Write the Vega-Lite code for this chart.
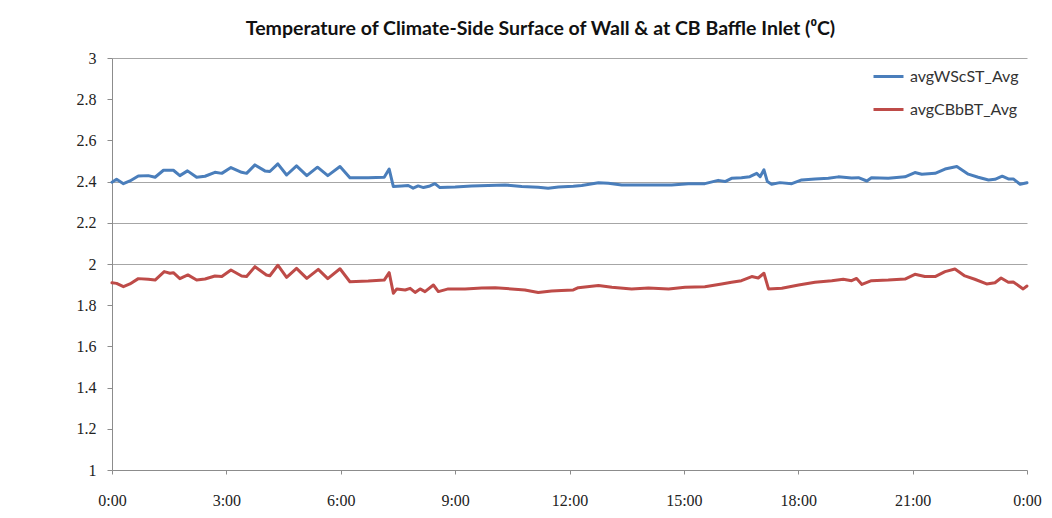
{
  "$schema": "https://vega.github.io/schema/vega-lite/v6.json",
  "width": 915,
  "height": 412,
  "autosize": {"type": "none"},
  "padding": {"left": 112, "top": 58, "right": 25, "bottom": 48},
  "background": "white",
  "title": {
    "text": "Temperature of Climate-Side Surface of Wall & at CB Baffle Inlet (⁰C)",
    "font": "Lato",
    "fontSize": 19.5,
    "fontWeight": "bold",
    "color": "#111111",
    "anchor": "middle",
    "dx": -29,
    "offset": 11
  },
  "data": {
    "values": [
      {"h": 0, "s": "avgWScST_Avg", "v": 2.397},
      {"h": 0.12, "s": "avgWScST_Avg", "v": 2.411},
      {"h": 0.3, "s": "avgWScST_Avg", "v": 2.39},
      {"h": 0.47, "s": "avgWScST_Avg", "v": 2.403},
      {"h": 0.69, "s": "avgWScST_Avg", "v": 2.427},
      {"h": 0.95, "s": "avgWScST_Avg", "v": 2.429},
      {"h": 1.13, "s": "avgWScST_Avg", "v": 2.421},
      {"h": 1.35, "s": "avgWScST_Avg", "v": 2.455},
      {"h": 1.61, "s": "avgWScST_Avg", "v": 2.455},
      {"h": 1.78, "s": "avgWScST_Avg", "v": 2.429},
      {"h": 1.98, "s": "avgWScST_Avg", "v": 2.452},
      {"h": 2.22, "s": "avgWScST_Avg", "v": 2.421},
      {"h": 2.44, "s": "avgWScST_Avg", "v": 2.426},
      {"h": 2.7, "s": "avgWScST_Avg", "v": 2.445},
      {"h": 2.88, "s": "avgWScST_Avg", "v": 2.44},
      {"h": 3.12, "s": "avgWScST_Avg", "v": 2.468},
      {"h": 3.4, "s": "avgWScST_Avg", "v": 2.445},
      {"h": 3.53, "s": "avgWScST_Avg", "v": 2.44},
      {"h": 3.75, "s": "avgWScST_Avg", "v": 2.481},
      {"h": 4.01, "s": "avgWScST_Avg", "v": 2.452},
      {"h": 4.14, "s": "avgWScST_Avg", "v": 2.449},
      {"h": 4.35, "s": "avgWScST_Avg", "v": 2.486},
      {"h": 4.58, "s": "avgWScST_Avg", "v": 2.432},
      {"h": 4.84, "s": "avgWScST_Avg", "v": 2.476},
      {"h": 5.11, "s": "avgWScST_Avg", "v": 2.429},
      {"h": 5.39, "s": "avgWScST_Avg", "v": 2.47},
      {"h": 5.66, "s": "avgWScST_Avg", "v": 2.429},
      {"h": 5.98, "s": "avgWScST_Avg", "v": 2.473},
      {"h": 6.24, "s": "avgWScST_Avg", "v": 2.419},
      {"h": 6.72, "s": "avgWScST_Avg", "v": 2.419},
      {"h": 7.14, "s": "avgWScST_Avg", "v": 2.421},
      {"h": 7.27, "s": "avgWScST_Avg", "v": 2.461},
      {"h": 7.38, "s": "avgWScST_Avg", "v": 2.376},
      {"h": 7.6, "s": "avgWScST_Avg", "v": 2.379},
      {"h": 7.77, "s": "avgWScST_Avg", "v": 2.381},
      {"h": 7.9, "s": "avgWScST_Avg", "v": 2.368},
      {"h": 8.03, "s": "avgWScST_Avg", "v": 2.379},
      {"h": 8.17, "s": "avgWScST_Avg", "v": 2.371},
      {"h": 8.34, "s": "avgWScST_Avg", "v": 2.379},
      {"h": 8.47, "s": "avgWScST_Avg", "v": 2.39},
      {"h": 8.6, "s": "avgWScST_Avg", "v": 2.371},
      {"h": 9.0, "s": "avgWScST_Avg", "v": 2.374},
      {"h": 9.43, "s": "avgWScST_Avg", "v": 2.379},
      {"h": 9.87, "s": "avgWScST_Avg", "v": 2.381},
      {"h": 10.31, "s": "avgWScST_Avg", "v": 2.384},
      {"h": 10.75, "s": "avgWScST_Avg", "v": 2.376},
      {"h": 11.18, "s": "avgWScST_Avg", "v": 2.372},
      {"h": 11.44, "s": "avgWScST_Avg", "v": 2.368},
      {"h": 11.71, "s": "avgWScST_Avg", "v": 2.374},
      {"h": 12.1, "s": "avgWScST_Avg", "v": 2.377},
      {"h": 12.32, "s": "avgWScST_Avg", "v": 2.381},
      {"h": 12.76, "s": "avgWScST_Avg", "v": 2.394},
      {"h": 13.02, "s": "avgWScST_Avg", "v": 2.392},
      {"h": 13.37, "s": "avgWScST_Avg", "v": 2.384},
      {"h": 13.81, "s": "avgWScST_Avg", "v": 2.384},
      {"h": 14.24, "s": "avgWScST_Avg", "v": 2.384},
      {"h": 14.68, "s": "avgWScST_Avg", "v": 2.384},
      {"h": 15.12, "s": "avgWScST_Avg", "v": 2.389},
      {"h": 15.55, "s": "avgWScST_Avg", "v": 2.39},
      {"h": 15.9, "s": "avgWScST_Avg", "v": 2.406},
      {"h": 16.08, "s": "avgWScST_Avg", "v": 2.4},
      {"h": 16.25, "s": "avgWScST_Avg", "v": 2.416},
      {"h": 16.51, "s": "avgWScST_Avg", "v": 2.419},
      {"h": 16.73, "s": "avgWScST_Avg", "v": 2.424},
      {"h": 16.91, "s": "avgWScST_Avg", "v": 2.44},
      {"h": 17.0, "s": "avgWScST_Avg", "v": 2.424},
      {"h": 17.1, "s": "avgWScST_Avg", "v": 2.457},
      {"h": 17.19, "s": "avgWScST_Avg", "v": 2.4},
      {"h": 17.3, "s": "avgWScST_Avg", "v": 2.387},
      {"h": 17.52, "s": "avgWScST_Avg", "v": 2.395},
      {"h": 17.83, "s": "avgWScST_Avg", "v": 2.39},
      {"h": 18.09, "s": "avgWScST_Avg", "v": 2.408},
      {"h": 18.44, "s": "avgWScST_Avg", "v": 2.413},
      {"h": 18.79, "s": "avgWScST_Avg", "v": 2.416},
      {"h": 19.05, "s": "avgWScST_Avg", "v": 2.423},
      {"h": 19.4, "s": "avgWScST_Avg", "v": 2.418},
      {"h": 19.58, "s": "avgWScST_Avg", "v": 2.419},
      {"h": 19.8, "s": "avgWScST_Avg", "v": 2.403},
      {"h": 19.92, "s": "avgWScST_Avg", "v": 2.419},
      {"h": 20.36, "s": "avgWScST_Avg", "v": 2.416},
      {"h": 20.8, "s": "avgWScST_Avg", "v": 2.423},
      {"h": 21.06, "s": "avgWScST_Avg", "v": 2.444},
      {"h": 21.24, "s": "avgWScST_Avg", "v": 2.436},
      {"h": 21.59, "s": "avgWScST_Avg", "v": 2.44},
      {"h": 21.85, "s": "avgWScST_Avg", "v": 2.461},
      {"h": 22.16, "s": "avgWScST_Avg", "v": 2.473},
      {"h": 22.46, "s": "avgWScST_Avg", "v": 2.436},
      {"h": 22.72, "s": "avgWScST_Avg", "v": 2.421},
      {"h": 22.99, "s": "avgWScST_Avg", "v": 2.408},
      {"h": 23.16, "s": "avgWScST_Avg", "v": 2.411},
      {"h": 23.35, "s": "avgWScST_Avg", "v": 2.426},
      {"h": 23.51, "s": "avgWScST_Avg", "v": 2.413},
      {"h": 23.64, "s": "avgWScST_Avg", "v": 2.413},
      {"h": 23.82, "s": "avgWScST_Avg", "v": 2.387},
      {"h": 24.0, "s": "avgWScST_Avg", "v": 2.394},
      {"h": 0, "s": "avgCBbBT_Avg", "v": 1.909},
      {"h": 0.12, "s": "avgCBbBT_Avg", "v": 1.906},
      {"h": 0.3, "s": "avgCBbBT_Avg", "v": 1.89},
      {"h": 0.47, "s": "avgCBbBT_Avg", "v": 1.903},
      {"h": 0.69, "s": "avgCBbBT_Avg", "v": 1.929},
      {"h": 0.95, "s": "avgCBbBT_Avg", "v": 1.926},
      {"h": 1.13, "s": "avgCBbBT_Avg", "v": 1.922},
      {"h": 1.37, "s": "avgCBbBT_Avg", "v": 1.963},
      {"h": 1.52, "s": "avgCBbBT_Avg", "v": 1.955},
      {"h": 1.61, "s": "avgCBbBT_Avg", "v": 1.958},
      {"h": 1.78, "s": "avgCBbBT_Avg", "v": 1.929},
      {"h": 1.99, "s": "avgCBbBT_Avg", "v": 1.947},
      {"h": 2.22, "s": "avgCBbBT_Avg", "v": 1.922},
      {"h": 2.44, "s": "avgCBbBT_Avg", "v": 1.927},
      {"h": 2.7, "s": "avgCBbBT_Avg", "v": 1.942},
      {"h": 2.88, "s": "avgCBbBT_Avg", "v": 1.939},
      {"h": 3.12, "s": "avgCBbBT_Avg", "v": 1.971},
      {"h": 3.4, "s": "avgCBbBT_Avg", "v": 1.942},
      {"h": 3.53, "s": "avgCBbBT_Avg", "v": 1.939},
      {"h": 3.75, "s": "avgCBbBT_Avg", "v": 1.987},
      {"h": 4.05, "s": "avgCBbBT_Avg", "v": 1.947},
      {"h": 4.14, "s": "avgCBbBT_Avg", "v": 1.943},
      {"h": 4.35, "s": "avgCBbBT_Avg", "v": 1.994},
      {"h": 4.58, "s": "avgCBbBT_Avg", "v": 1.935},
      {"h": 4.84, "s": "avgCBbBT_Avg", "v": 1.979},
      {"h": 5.11, "s": "avgCBbBT_Avg", "v": 1.93},
      {"h": 5.41, "s": "avgCBbBT_Avg", "v": 1.974},
      {"h": 5.66, "s": "avgCBbBT_Avg", "v": 1.929},
      {"h": 5.98, "s": "avgCBbBT_Avg", "v": 1.977},
      {"h": 6.24, "s": "avgCBbBT_Avg", "v": 1.914},
      {"h": 6.72, "s": "avgCBbBT_Avg", "v": 1.917},
      {"h": 7.14, "s": "avgCBbBT_Avg", "v": 1.922},
      {"h": 7.27, "s": "avgCBbBT_Avg", "v": 1.958},
      {"h": 7.38, "s": "avgCBbBT_Avg", "v": 1.858},
      {"h": 7.47, "s": "avgCBbBT_Avg", "v": 1.879},
      {"h": 7.69, "s": "avgCBbBT_Avg", "v": 1.874},
      {"h": 7.82, "s": "avgCBbBT_Avg", "v": 1.882},
      {"h": 7.95, "s": "avgCBbBT_Avg", "v": 1.862},
      {"h": 8.08, "s": "avgCBbBT_Avg", "v": 1.879},
      {"h": 8.21, "s": "avgCBbBT_Avg", "v": 1.866},
      {"h": 8.43, "s": "avgCBbBT_Avg", "v": 1.898},
      {"h": 8.56, "s": "avgCBbBT_Avg", "v": 1.866},
      {"h": 8.82, "s": "avgCBbBT_Avg", "v": 1.879},
      {"h": 9.26, "s": "avgCBbBT_Avg", "v": 1.879},
      {"h": 9.7, "s": "avgCBbBT_Avg", "v": 1.884},
      {"h": 10.05, "s": "avgCBbBT_Avg", "v": 1.885},
      {"h": 10.48, "s": "avgCBbBT_Avg", "v": 1.879},
      {"h": 10.83, "s": "avgCBbBT_Avg", "v": 1.874},
      {"h": 11.18, "s": "avgCBbBT_Avg", "v": 1.862},
      {"h": 11.53, "s": "avgCBbBT_Avg", "v": 1.869},
      {"h": 11.79, "s": "avgCBbBT_Avg", "v": 1.871},
      {"h": 12.1, "s": "avgCBbBT_Avg", "v": 1.874},
      {"h": 12.23, "s": "avgCBbBT_Avg", "v": 1.885},
      {"h": 12.76, "s": "avgCBbBT_Avg", "v": 1.896},
      {"h": 13.11, "s": "avgCBbBT_Avg", "v": 1.887},
      {"h": 13.63, "s": "avgCBbBT_Avg", "v": 1.879},
      {"h": 14.07, "s": "avgCBbBT_Avg", "v": 1.884},
      {"h": 14.6, "s": "avgCBbBT_Avg", "v": 1.879},
      {"h": 15.03, "s": "avgCBbBT_Avg", "v": 1.887},
      {"h": 15.55, "s": "avgCBbBT_Avg", "v": 1.89},
      {"h": 15.99, "s": "avgCBbBT_Avg", "v": 1.903},
      {"h": 16.25, "s": "avgCBbBT_Avg", "v": 1.911},
      {"h": 16.51, "s": "avgCBbBT_Avg", "v": 1.919},
      {"h": 16.78, "s": "avgCBbBT_Avg", "v": 1.939},
      {"h": 16.95, "s": "avgCBbBT_Avg", "v": 1.932},
      {"h": 17.1, "s": "avgCBbBT_Avg", "v": 1.955},
      {"h": 17.22, "s": "avgCBbBT_Avg", "v": 1.879},
      {"h": 17.57, "s": "avgCBbBT_Avg", "v": 1.882},
      {"h": 18.01, "s": "avgCBbBT_Avg", "v": 1.898},
      {"h": 18.44, "s": "avgCBbBT_Avg", "v": 1.911},
      {"h": 18.88, "s": "avgCBbBT_Avg", "v": 1.919},
      {"h": 19.18, "s": "avgCBbBT_Avg", "v": 1.926},
      {"h": 19.4, "s": "avgCBbBT_Avg", "v": 1.919},
      {"h": 19.53, "s": "avgCBbBT_Avg", "v": 1.93},
      {"h": 19.67, "s": "avgCBbBT_Avg", "v": 1.901},
      {"h": 19.92, "s": "avgCBbBT_Avg", "v": 1.919},
      {"h": 20.36, "s": "avgCBbBT_Avg", "v": 1.922},
      {"h": 20.8, "s": "avgCBbBT_Avg", "v": 1.927},
      {"h": 21.06, "s": "avgCBbBT_Avg", "v": 1.95},
      {"h": 21.32, "s": "avgCBbBT_Avg", "v": 1.939},
      {"h": 21.59, "s": "avgCBbBT_Avg", "v": 1.939},
      {"h": 21.85, "s": "avgCBbBT_Avg", "v": 1.963},
      {"h": 22.11, "s": "avgCBbBT_Avg", "v": 1.976},
      {"h": 22.37, "s": "avgCBbBT_Avg", "v": 1.942},
      {"h": 22.63, "s": "avgCBbBT_Avg", "v": 1.926},
      {"h": 22.94, "s": "avgCBbBT_Avg", "v": 1.903},
      {"h": 23.16, "s": "avgCBbBT_Avg", "v": 1.909},
      {"h": 23.32, "s": "avgCBbBT_Avg", "v": 1.932},
      {"h": 23.51, "s": "avgCBbBT_Avg", "v": 1.911},
      {"h": 23.64, "s": "avgCBbBT_Avg", "v": 1.913},
      {"h": 23.9, "s": "avgCBbBT_Avg", "v": 1.879},
      {"h": 24.0, "s": "avgCBbBT_Avg", "v": 1.893}
    ]
  },
  "mark": {"type": "line", "strokeWidth": 3, "strokeJoin": "round", "strokeCap": "round"},
  "encoding": {
    "x": {
      "field": "h",
      "type": "quantitative",
      "scale": {"domain": [0, 24], "nice": false},
      "axis": {
        "title": null,
        "values": [0, 3, 6, 9, 12, 15, 18, 21, 24],
        "labelExpr": "(datum.value % 24) + ':00'",
        "grid": false,
        "domainColor": "#8c8c8c",
        "tickColor": "#8c8c8c",
        "tickSize": 4,
        "labelFont": "Liberation Serif",
        "labelFontSize": 16,
        "labelColor": "#222222",
        "labelPadding": 18,
        "labelFlush": false
      }
    },
    "y": {
      "field": "v",
      "type": "quantitative",
      "scale": {"domain": [1, 3], "nice": false, "zero": false},
      "axis": {
        "title": null,
        "values": [1, 1.2, 1.4, 1.6, 1.8, 2, 2.2, 2.4, 2.6, 2.8, 3],
        "format": ".2~f",
        "grid": true,
        "gridColor": "#a6a6a6",
        "gridOpacity": {"condition": {"test": "(datum.value > 1.99 && datum.value < 2.41) || datum.value > 2.99", "value": 1}, "value": 0},
        "domainColor": "#8c8c8c",
        "tickColor": "#8c8c8c",
        "tickSize": 5,
        "labelFont": "Liberation Serif",
        "labelFontSize": 16,
        "labelColor": "#222222",
        "labelPadding": 11,
        "labelFlush": false
      }
    },
    "color": {
      "field": "s",
      "type": "nominal",
      "sort": ["avgWScST_Avg", "avgCBbBT_Avg"],
      "scale": {"domain": ["avgWScST_Avg", "avgCBbBT_Avg"], "range": ["#4a7ebb", "#be4b48"]},
      "legend": {
        "title": null,
        "orient": "none",
        "legendX": 760,
        "legendY": 2,
        "symbolType": "stroke",
        "symbolSize": 900,
        "symbolStrokeWidth": 3,
        "labelFont": "Lato",
        "labelFontSize": 16,
        "labelColor": "#333333",
        "rowPadding": 8,
        "labelOffset": 5
      }
    }
  },
  "config": {
    "view": {"stroke": null}
  }
}
